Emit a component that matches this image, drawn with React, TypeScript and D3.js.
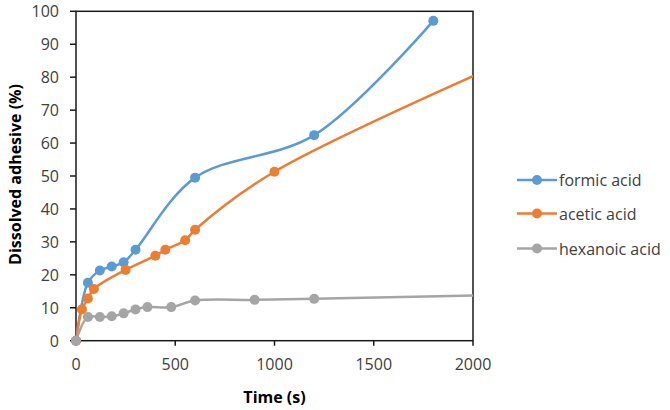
import React from "react";
import * as d3 from "d3";

const xTicks = [0, 500, 1000, 1500, 2000];
const yTicks = [0, 10, 20, 30, 40, 50, 60, 70, 80, 90, 100];

const seriesNames = ["formic acid", "acetic acid", "hexanoic acid"];
const seriesColors = ["#5B9BD5", "#ED7D31", "#A5A5A5"];

const formicTime = [0, 60, 120, 180, 240, 300, 600, 1200, 1800];
const formicValue = [0, 17.6, 21.3, 22.5, 23.8, 27.6, 49.5, 62.4, 97.1];

const aceticTime = [0, 30, 60, 90, 250, 400, 450, 550, 600, 1000, 2400];
const aceticValue = [0, 9.5, 12.8, 15.7, 21.5, 25.8, 27.6, 30.5, 33.7, 51.3, 91.0];

const hexanoicTime = [0, 60, 120, 180, 240, 300, 360, 480, 600, 900, 1200, 2400];
const hexanoicValue = [0, 7.2, 7.2, 7.4, 8.3, 9.5, 10.2, 10.2, 12.2, 12.4, 12.7, 14.2];

const W = 670;
const H = 410;
const left = 76;
const right = 473;
const top = 11.3;
const bottom = 340.7;

export default function App() {
  const x = d3.scaleLinear().domain([0, 2000]).range([left, right]);
  const y = d3.scaleLinear().domain([0, 100]).range([bottom, top]);
  const series = [
    { t: formicTime, v: formicValue },
    { t: aceticTime, v: aceticValue },
    { t: hexanoicTime, v: hexanoicValue },
  ];
  const line = d3
    .line<[number, number]>()
    .x((d) => x(d[0]))
    .y((d) => y(d[1]))
    .curve(d3.curveCatmullRom.alpha(0.5));
  const font = "'Open Sans', sans-serif";
  const legendY = [180, 213.5, 248.5];

  return (
    <svg
      width={W}
      height={H}
      style={{ position: "absolute", left: 0, top: 0, background: "#fff" }}
      fontFamily={font}
    >
      <defs>
        <clipPath id="plotClip">
          <rect x={left} y={top} width={right - left} height={bottom - top} />
        </clipPath>
      </defs>
      <rect x={0} y={0} width={W} height={H} fill="#fff" />
      {/* plot border */}
      <rect
        x={left}
        y={top}
        width={right - left}
        height={bottom - top}
        fill="none"
        stroke="#1a1a1a"
        strokeWidth={1.5}
      />
      {/* y ticks */}
      {yTicks.map((t) => (
        <g key={"y" + t}>
          <line x1={left - 6} x2={left} y1={y(t)} y2={y(t)} stroke="#1a1a1a" strokeWidth={1.5} />
          <text
            x={59}
            y={y(t)}
            textAnchor="end"
            dominantBaseline="central"
            fontSize={16}
            fill="#404040"
          >
            {t}
          </text>
        </g>
      ))}
      {/* x ticks */}
      {xTicks.map((t) => (
        <g key={"x" + t}>
          <line x1={x(t)} x2={x(t)} y1={bottom} y2={bottom + 5} stroke="#1a1a1a" strokeWidth={1.5} />
          <text
            x={x(t)}
            y={364}
            textAnchor="middle"
            dominantBaseline="central"
            fontSize={16}
            fill="#404040"
          >
            {t}
          </text>
        </g>
      ))}
      {/* axis titles */}
      <text
        x={274.5}
        y={397}
        textAnchor="middle"
        dominantBaseline="central"
        fontSize={16}
        fontWeight="bold"
        fill="#000"
      >
        Time (s)
      </text>
      <text
        transform={`translate(15, ${(82 + 267) / 2}) rotate(-90)`}
        textAnchor="middle"
        dominantBaseline="central"
        fontSize={16}
        fontWeight="bold"
        fill="#000"
      >
        Dissolved adhesive (%)
      </text>
      {/* lines */}
      <g clipPath="url(#plotClip)">
        {series.map((s, i) => (
          <path
            key={"l" + i}
            d={line(s.t.map((tt, j) => [tt, s.v[j]] as [number, number])) || ""}
            fill="none"
            stroke={seriesColors[i]}
            strokeWidth={2.5}
          />
        ))}
      </g>
      {/* markers */}
      {series.map((s, i) => (
        <g key={"m" + i}>
          {s.t.map((tt, j) =>
            tt <= 2000 ? (
              <circle key={j} cx={x(tt)} cy={y(s.v[j])} r={5} fill={seriesColors[i]} />
            ) : null
          )}
        </g>
      ))}
      {/* legend */}
      {seriesNames.map((n, i) => (
        <g key={"lg" + i}>
          <line
            x1={517}
            x2={557}
            y1={legendY[i]}
            y2={legendY[i]}
            stroke={seriesColors[i]}
            strokeWidth={2.5}
          />
          <circle cx={537} cy={legendY[i]} r={5} fill={seriesColors[i]} />
          <text
            x={559}
            y={legendY[i]}
            dominantBaseline="central"
            fontSize={16}
            fill="#404040"
          >
            {n}
          </text>
        </g>
      ))}
    </svg>
  );
}
